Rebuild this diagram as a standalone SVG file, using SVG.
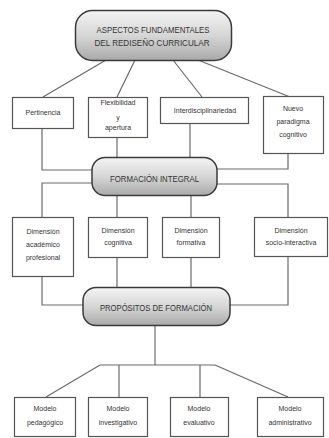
<svg xmlns="http://www.w3.org/2000/svg" width="329" height="438" viewBox="0 0 329 438">
<defs>
<linearGradient id="g" x1="0" y1="0" x2="0" y2="1">
<stop offset="0" stop-color="#f4f4f4"/>
<stop offset="0.5" stop-color="#d6d6d6"/>
<stop offset="1" stop-color="#a9a9a9"/>
</linearGradient>
<style>
.hub{fill:url(#g);stroke:#3a3a3a;stroke-width:1.5}
.box{fill:#ffffff;stroke:#555555;stroke-width:1.2}
.ln{fill:none;stroke:#6a6a6a;stroke-width:1.2}
.t{font-family:"Liberation Sans",Arial,sans-serif;font-size:7px;fill:#333333;text-anchor:middle}
.h{font-family:"Liberation Sans",Arial,sans-serif;font-size:8.5px;fill:#333333;text-anchor:middle}
</style>
</defs>
<rect width="329" height="438" fill="#ffffff"/>
<g id="connectors">
<path class="ln" d="M106 60 L43 97"/>
<path class="ln" d="M135 60 L117 97"/>
<path class="ln" d="M173 60 L202 97"/>
<path class="ln" d="M198 60 L290 97"/>
<path class="ln" d="M42 128 V170 H92"/>
<path class="ln" d="M117 137 V157"/>
<path class="ln" d="M190 123 V157"/>
<path class="ln" d="M288 153 V169 H217"/>
<path class="ln" d="M92 183 H42 V217"/>
<path class="ln" d="M217 184 H288 V217"/>
<path class="ln" d="M117 196 V217"/>
<path class="ln" d="M191 196 V217"/>
<path class="ln" d="M42 276 V305 H83"/>
<path class="ln" d="M117 257 V287"/>
<path class="ln" d="M191 257 V287"/>
<path class="ln" d="M288 256 V305 H229"/>
<path class="ln" d="M155 325 V365"/>
<path class="ln" d="M100 365 H215"/>
<path class="ln" d="M100 365 L46 397"/>
<path class="ln" d="M119 365 V397"/>
<path class="ln" d="M200 365 V397"/>
<path class="ln" d="M215 365 L288 397"/>
</g>
<g id="n-aspectos">
<rect class="hub" x="75.5" y="10.5" width="156" height="50" rx="17"/>
<text class="h" x="153" y="33" textLength="113" lengthAdjust="spacingAndGlyphs">ASPECTOS FUNDAMENTALES</text>
<text class="h" x="152" y="46" textLength="115" lengthAdjust="spacingAndGlyphs">DEL REDISEÑO CURRICULAR</text>
</g>
<g id="n-pertinencia">
<rect class="box" x="12.5" y="97.5" width="61" height="31"/>
<text class="t" x="43" y="115">Pertinencia</text>
</g>
<g id="n-flexibilidad">
<rect class="box" x="88.5" y="97.5" width="59" height="40"/>
<text class="t" x="118" y="105">Flexibilidad</text>
<text class="t" x="118" y="120">y</text>
<text class="t" x="118" y="130">apertura</text>
</g>
<g id="n-interdisciplinariedad">
<rect class="box" x="160.5" y="97.5" width="88" height="26"/>
<text class="t" x="205" y="113">Interdisciplinariedad</text>
</g>
<g id="n-nuevo">
<rect class="box" x="263.5" y="96.5" width="60" height="57"/>
<text class="t" x="293" y="111">Nuevo</text>
<text class="t" x="293" y="124">paradigma</text>
<text class="t" x="293" y="137">cognitivo</text>
</g>
<g id="n-formacion">
<rect class="hub" x="92" y="157.5" width="125" height="38" rx="13"/>
<text class="h" x="154.5" y="182" textLength="89" lengthAdjust="spacingAndGlyphs">FORMACIÓN INTEGRAL</text>
</g>
<g id="n-dim-academico">
<rect class="box" x="12.5" y="217.5" width="61" height="59"/>
<text class="t" x="43" y="234">Dimensión</text>
<text class="t" x="43" y="247">académico</text>
<text class="t" x="43" y="260">profesional</text>
</g>
<g id="n-dim-cognitiva">
<rect class="box" x="88.5" y="217.5" width="59" height="40"/>
<text class="t" x="118" y="233">Dimensión</text>
<text class="t" x="118" y="245">cognitiva</text>
</g>
<g id="n-dim-formativa">
<rect class="box" x="162.5" y="217.5" width="57" height="40"/>
<text class="t" x="191" y="233">Dimensión</text>
<text class="t" x="191" y="245">formativa</text>
</g>
<g id="n-dim-socio">
<rect class="box" x="254.5" y="217.5" width="73" height="39"/>
<text class="t" x="291" y="233">Dimensión</text>
<text class="t" x="291" y="245">socio-interactiva</text>
</g>
<g id="n-propositos">
<rect class="hub" x="83" y="287.5" width="147" height="38" rx="13"/>
<text class="h" x="156" y="311" textLength="112" lengthAdjust="spacingAndGlyphs">PROPÓSITOS DE FORMACIÓN</text>
</g>
<g id="n-pedagogico">
<rect class="box" x="14.5" y="397.5" width="61" height="39"/>
<text class="t" x="45" y="411">Modelo</text>
<text class="t" x="45" y="425">pedagógico</text>
</g>
<g id="n-investigativo">
<rect class="box" x="88.5" y="397.5" width="59" height="39"/>
<text class="t" x="118" y="411">Modelo</text>
<text class="t" x="118" y="425">investigativo</text>
</g>
<g id="n-evaluativo">
<rect class="box" x="170.5" y="397.5" width="58" height="39"/>
<text class="t" x="199" y="411">Modelo</text>
<text class="t" x="199" y="425">evaluativo</text>
</g>
<g id="n-administrativo">
<rect class="box" x="257.5" y="397.5" width="66" height="39"/>
<text class="t" x="290" y="411">Modelo</text>
<text class="t" x="290" y="425">administrativo</text>
</g>
</svg>
